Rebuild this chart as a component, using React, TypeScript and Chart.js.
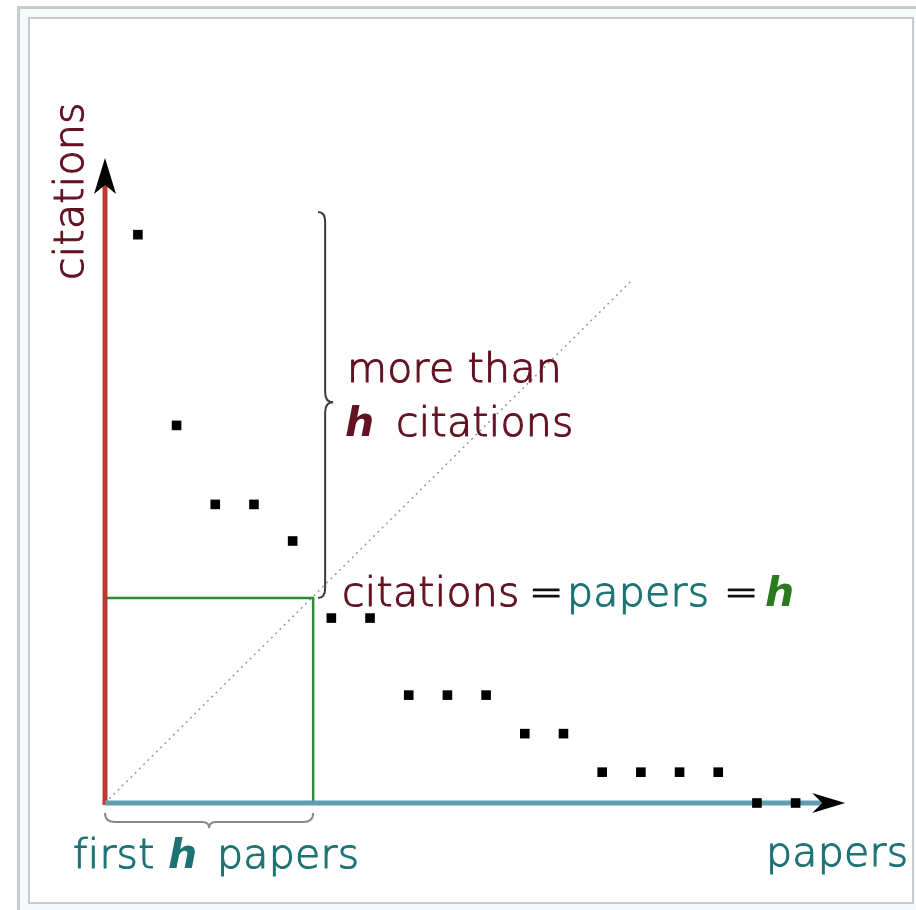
import React, { useEffect, useRef } from "react";
import { Chart, registerables } from "chart.js";

Chart.register(...registerables);

// ---- data (paper rank vs. citations) ----
const PAPERS = [1, 2, 3, 4, 5, 6, 7, 8, 9, 10, 11, 12, 13, 14, 15, 16, 17, 18];
const CITATIONS = [14.75, 9.8, 7.75, 7.75, 6.8, 4.8, 4.8, 2.8, 2.8, 2.8, 1.8, 1.8, 0.8, 0.8, 0.8, 0.8, 0, 0];
const ORIGIN_X = 0.15;
const H_PAPERS = 5.53;
const H_CITATIONS = 5.32;
const DIAGONAL_END = [13.8, 13.6];
const Y_AXIS_TOP = 16.74;
const X_AXIS_END = 19.28;
const BRACE_TOP = 15.34;
const BRACE_TIP = 10.4;
const BRACE_X = 5.84;

const MAROON = "#621220";
const TEAL_TEXT = "#1d7373";
const GREEN_TEXT = "#2b7a1f";
const FONT = "300 41px 'DejaVu Sans', sans-serif";
const BOLD_IT = "italic bold 41px 'DejaVu Sans', sans-serif";

const W = 916;
const H = 910;

const framePlugin = {
  id: "frame",
  beforeDraw(chart: any) {
    const ctx = chart.ctx;
    ctx.save();
    ctx.fillStyle = "#ffffff";
    ctx.fillRect(0, 0, W, H);
    ctx.fillStyle = "#f8f9fa";
    ctx.fillRect(18, 7, W - 18, H - 7);
    ctx.strokeStyle = "#c8ccd1";
    ctx.lineWidth = 3;
    ctx.beginPath();
    ctx.moveTo(18.5, H);
    ctx.lineTo(18.5, 7.5);
    ctx.lineTo(W, 7.5);
    ctx.stroke();
    ctx.fillStyle = "#ffffff";
    ctx.fillRect(29, 18, 884, 885);
    ctx.lineWidth = 2;
    ctx.strokeRect(29, 18, 884, 885);
    ctx.restore();
  },
};

const overlayPlugin = {
  id: "overlay",
  afterDatasetsDraw(chart: any) {
    const ctx = chart.ctx;
    const xs = chart.scales.x;
    const ys = chart.scales.y;
    const px = (v: number) => xs.getPixelForValue(v);
    const py = (v: number) => ys.getPixelForValue(v);
    const ox = px(ORIGIN_X);
    const oy = py(0);
    ctx.save();

    // arrow heads
    ctx.fillStyle = "#000";
    const ty = py(Y_AXIS_TOP);
    ctx.beginPath();
    ctx.moveTo(ox, ty);
    ctx.lineTo(ox + 11, ty + 36);
    ctx.lineTo(ox, ty + 27);
    ctx.lineTo(ox - 11, ty + 36);
    ctx.closePath();
    ctx.fill();
    const tx = px(X_AXIS_END);
    ctx.beginPath();
    ctx.moveTo(tx, oy);
    ctx.lineTo(tx - 33, oy - 10);
    ctx.lineTo(tx - 23, oy);
    ctx.lineTo(tx - 33, oy + 10);
    ctx.closePath();
    ctx.fill();

    // vertical brace
    ctx.strokeStyle = "#3a3a3a";
    ctx.lineWidth = 2;
    const bx = px(BRACE_X);
    const bTop = py(BRACE_TOP);
    const bBot = py(H_CITATIONS);
    const bTip = py(BRACE_TIP);
    ctx.beginPath();
    ctx.moveTo(bx - 7, bTop);
    ctx.quadraticCurveTo(bx, bTop, bx, bTop + 10);
    ctx.lineTo(bx, bTip - 10);
    ctx.quadraticCurveTo(bx, bTip, bx + 8, bTip);
    ctx.quadraticCurveTo(bx, bTip, bx, bTip + 10);
    ctx.lineTo(bx, bBot - 10);
    ctx.quadraticCurveTo(bx, bBot, bx - 7, bBot);
    ctx.stroke();

    // horizontal brace
    ctx.strokeStyle = "#888";
    const hx1 = ox;
    const hx2 = px(H_PAPERS);
    const hmid = (hx1 + hx2) / 2;
    const hy = oy + 19;
    ctx.beginPath();
    ctx.moveTo(hx1, oy + 10);
    ctx.quadraticCurveTo(hx1, hy, hx1 + 10, hy);
    ctx.lineTo(hmid - 7, hy);
    ctx.quadraticCurveTo(hmid, hy, hmid, hy + 6);
    ctx.quadraticCurveTo(hmid, hy, hmid + 7, hy);
    ctx.lineTo(hx2 - 10, hy);
    ctx.quadraticCurveTo(hx2, hy, hx2, oy + 10);
    ctx.stroke();

    // texts
    ctx.textBaseline = "alphabetic";
    ctx.textAlign = "left";
    ctx.lineJoin = "round";
    const put = (t: string, x: number, y: number, color: string, font = FONT) => {
      ctx.font = font;
      ctx.fillStyle = color;
      (ctx as any).letterSpacing = font === FONT ? "0.3px" : "0px";
      ctx.fillText(t, x, y);
      if (font === FONT) {
        ctx.strokeStyle = color;
        ctx.lineWidth = 1.1;
        ctx.strokeText(t, x, y);
      }
    };
    // y axis title
    ctx.save();
    ctx.translate(83, 280);
    ctx.rotate(-Math.PI / 2);
    put("citations", 0, 0, MAROON);
    ctx.restore();

    put("more than", 347, 382, MAROON);
    put("h", 345, 436, MAROON, BOLD_IT);
    put("citations", 396, 436, MAROON);

    put("citations", 342, 606, MAROON);
    put("=", 529, 606, "#111");
    put("papers", 567, 606, TEAL_TEXT);
    put("=", 724, 606, "#111");
    put("h", 765, 606, GREEN_TEXT, BOLD_IT);

    put("first", 73, 868, TEAL_TEXT);
    put("h", 168, 868, TEAL_TEXT, BOLD_IT);
    put("papers", 217, 868, TEAL_TEXT);

    put("papers", 766, 866, TEAL_TEXT);

    ctx.restore();
  },
};

export default function App() {
  const ref = useRef<HTMLCanvasElement | null>(null);
  useEffect(() => {
    if (!ref.current) return;
    const points = PAPERS.map((p, i) => ({ x: p, y: CITATIONS[i] }));
    const chart = new Chart(ref.current, {
      type: "scatter",
      data: {
        datasets: [
          {
            data: points,
            pointStyle: "rect",
            pointRadius: 6.8,
            pointBorderWidth: 0,
            backgroundColor: "#000",
            borderColor: "#000",
            showLine: false,
            clip: false,
          } as any,
          {
            data: [
              { x: ORIGIN_X, y: 0 },
              { x: X_AXIS_END - 0.6, y: 0 },
            ],
            showLine: true,
            borderColor: "#5f9db0",
            borderWidth: 5,
            pointRadius: 0,
            clip: false,
          } as any,
          {
            data: [
              { x: ORIGIN_X, y: -0.05 },
              { x: ORIGIN_X, y: Y_AXIS_TOP - 0.7 },
            ],
            showLine: true,
            borderColor: "#bd3a30",
            borderWidth: 5,
            pointRadius: 0,
            clip: false,
          } as any,
          {
            data: [
              { x: ORIGIN_X, y: H_CITATIONS },
              { x: H_PAPERS, y: H_CITATIONS },
              { x: H_PAPERS, y: 0 },
            ],
            showLine: true,
            borderColor: "#2f8a34",
            borderWidth: 2.5,
            pointRadius: 0,
            clip: false,
          } as any,
          {
            data: [
              { x: ORIGIN_X, y: 0 },
              { x: DIAGONAL_END[0], y: DIAGONAL_END[1] },
            ],
            showLine: true,
            borderColor: "#9a9a9a",
            borderWidth: 1.5,
            borderDash: [2, 4],
            pointRadius: 0,
            clip: false,
          } as any,
        ],
      },
      options: {
        responsive: false,
        animation: false,
        devicePixelRatio: 1,
        layout: { padding: { left: 105, right: 43, top: 148, bottom: 107 } },
        scales: {
          x: { type: "linear", min: ORIGIN_X, max: 20, display: false },
          y: { type: "linear", min: 0, max: 17, display: false },
        },
        plugins: { legend: { display: false }, tooltip: { enabled: false } },
        events: [],
      },
      plugins: [framePlugin, overlayPlugin],
    });
    return () => chart.destroy();
  }, []);
  return (
    <canvas
      ref={ref}
      width={W}
      height={H}
      style={{ position: "absolute", left: 0, top: 0, display: "block", width: W, height: H }}
    />
  );
}
